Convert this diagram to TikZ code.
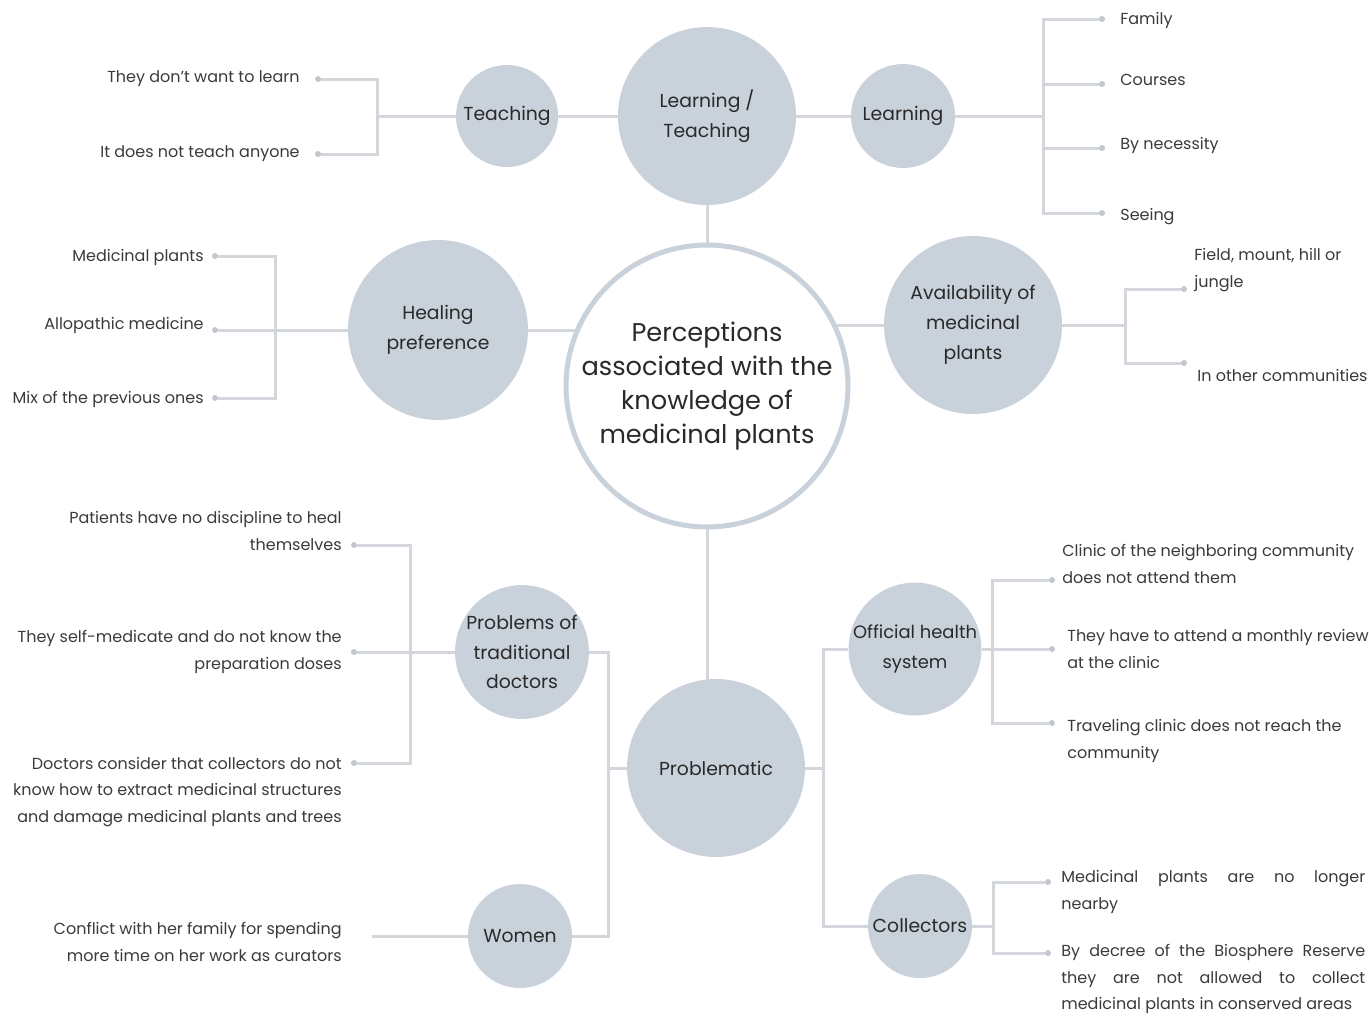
\documentclass[tikz,border=0pt]{standalone}
\usepackage{fontspec}
\setmainfont{Poppins}
\usetikzlibrary{
  positioning,
  calc,
  backgrounds
}
\definecolor{pmFill}{HTML}{C9D1DB}
\definecolor{pmLine}{HTML}{D3D7DC}
\definecolor{pmDot}{HTML}{C2C7CD}
\definecolor{pmText}{HTML}{2A2A2A}
\definecolor{pmLeaf}{HTML}{3A3A3A}
\tikzset{
  topic/.style={
    circle, fill=pmFill, inner sep=0pt, align=center,
    font=\fontsize{10.7}{17}\selectfont, text=pmText
  },
  hub/.style={
    circle, draw=pmFill, line width=0.1cm, fill=white, inner sep=0pt,
    minimum size=5.64cm, align=center,
    font=\fontsize{14.6}{19.5}\selectfont, text=pmText
  },
  leaf/.style={font=\fontsize{9.1}{15}\selectfont, text=pmLeaf, inner sep=0pt},
  leafL/.style={leaf, anchor=east, align=right},
  leafR/.style={leaf, anchor=west, align=left},
  leafJ/.style={leaf, anchor=west, text width=6.08cm, align=justify},
  tip/.style={circle, fill=pmDot, inner sep=0pt, minimum size=0.12cm},
  link/.style={draw=pmLine, line width=0.06cm}
}

\begin{document}
\begin{tikzpicture}[x=0.02cm, y=-0.02cm]
  \useasboundingbox (0,0) rectangle (1369,1015);

  % main circles
  \node[hub] (perc) at (707,386) {Perceptions\\associated with the\\knowledge of\\medicinal plants};
  \node[topic, minimum size=3.56cm] (lt) at (707,116) {Learning /\\Teaching};
  \node[topic, minimum size=2.04cm] (teach) at (507,116) {Teaching};
  \node[topic, minimum size=2.08cm] (learn) at (903,116) {Learning};
  \node[topic, minimum size=3.6cm] (heal) at (438,330) {Healing\\preference};
  \node[topic, minimum size=3.56cm] (avail) at (973,325) {Availability of\\medicinal\\plants};
  \node[topic, minimum size=3.56cm] (prob) at (716,768) {Problematic};
  \node[topic, minimum size=2.48cm] (trad) at (522,652) {Problems of\\traditional\\doctors};
  \node[topic, minimum size=2.08cm] (women) at (520,936) {Women};
  \node[topic, minimum size=2.44cm, font=\fontsize{10.2}{17}\selectfont] (off) at (915,649) {Official health\\system};
  \node[topic, minimum size=2.08cm] (coll) at (920,926) {Collectors};

  % end points
  \node[tip] (tA) at (318,79) {};
  \node[tip] (tB) at (318,154) {};
  \node[tip] (lA) at (1102,19) {};
  \node[tip] (lB) at (1102,84) {};
  \node[tip] (lC) at (1102,148) {};
  \node[tip] (lD) at (1102,213) {};
  \node[tip] (hA) at (215,256) {};
  \node[tip] (hB) at (215,330) {};
  \node[tip] (hC) at (215,398) {};
  \node[tip] (aA) at (1184,289) {};
  \node[tip] (aB) at (1184,363) {};
  \node[tip] (pA) at (354,545) {};
  \node[tip] (pB) at (354,652) {};
  \node[tip] (pC) at (354,763) {};
  \coordinate (wEnd) at (372,936);
  \node[tip] (oA) at (1052,580) {};
  \node[tip] (oB) at (1052,649) {};
  \node[tip] (oC) at (1052,723) {};
  \node[tip] (cA) at (1048,882) {};
  \node[tip] (cB) at (1048,953) {};

  % labels
  \node[leafL] (tAl) at (300,79) {They don't want to learn};
  \node[leafL] (tBl) at (300,154) {It does not teach anyone};
  \node[leafR] (lAl) at (1120,20) {Family};
  \node[leafR] (lBl) at (1120,80) {Courses};
  \node[leafR] (lCl) at (1120,145) {By necessity};
  \node[leafR] (lDl) at (1120,217) {Seeing};
  \node[leafL] (hAl) at (204,257) {Medicinal plants};
  \node[leafL] (hBl) at (204,325) {Allopathic medicine};
  \node[leafL] (hCl) at (204,399) {Mix of the previous ones};
  \node[leafR] (aAl) at (1194,270) {Field, mount, hill or\\jungle};
  \node[leafR] (aBl) at (1197,375) {In other communities};
  \node[leafL] (pAl) at (342,531) {Patients have no discipline to heal\\themselves};
  \node[leafL] (pBl) at (342,652) {They self-medicate and do not know the\\preparation doses};
  \node[leafL] (pCl) at (342,792) {Doctors consider that collectors do not\\know how to extract medicinal structures\\and damage medicinal plants and trees};
  \node[leafL] (wl) at (342,942) {Conflict with her family for spending\\more time on her work as curators};
  \node[leafR] (oAl) at (1062,564) {Clinic of the neighboring community\\does not attend them};
  \node[leafR] (oBl) at (1067,649) {They have to attend a monthly review\\at the clinic};
  \node[leafR] (oCl) at (1067,741) {Traveling clinic does not reach the\\community};
  \node[leafJ] (cAl) at (1061,892) {Medicinal plants are no longer\linebreak nearby};
  \node[leafJ] (cBl) at (1061,979) {By decree of the Biosphere Reserve\linebreak they are not allowed to collect\linebreak medicinal plants in conserved areas};

  % connectors
  \begin{scope}[on background layer]
    \draw[link] (perc) -- (lt);
    \draw[link] (lt) -- (teach);
    \draw[link] (lt) -- (learn);
    \draw[link] (teach) -- ++(-130,0) |- (tA);
    \draw[link] (teach) -- ++(-130,0) |- (tB);
    \draw[link] (learn) -- ++(140,0) |- (lA);
    \draw[link] (learn) -- ++(140,0) |- (lB);
    \draw[link] (learn) -- ++(140,0) |- (lC);
    \draw[link] (learn) -- ++(140,0) |- (lD);
    \draw[link] (heal) -- (heal -| perc);
    \draw[link] (heal) -- ++(-163,0) |- (hA);
    \draw[link] (heal) -- ++(-163,0) |- (hC);
    \draw[link] (heal) -- (hB);
    \draw[link] (avail) -- (avail -| perc);
    \draw[link] (avail) -- ++(152,0) |- (aA);
    \draw[link] (avail) -- ++(152,0) |- (aB);
    \draw[link] (perc) -- (perc |- prob);
    \draw[link] (prob) -- ++(-108,0) |- (trad);
    \draw[link] (prob) -- ++(-108,0) |- (women);
    \draw[link] (prob) -- ++(107,0) |- (off);
    \draw[link] (prob) -- ++(107,0) |- (coll);
    \draw[link] (trad) -- ++(-112,0) |- (pA);
    \draw[link] (trad) -- ++(-112,0) |- (pC);
    \draw[link] (trad) -- (pB);
    \draw[link] (women) -- (wEnd);
    \draw[link] (off) -- ++(77,0) |- (oA);
    \draw[link] (off) -- ++(77,0) |- (oC);
    \draw[link] (off) -- (oB);
    \draw[link] (coll) -- ++(73,0) |- (cA);
    \draw[link] (coll) -- ++(73,0) |- (cB);
  \end{scope}
\end{tikzpicture}
\end{document}
